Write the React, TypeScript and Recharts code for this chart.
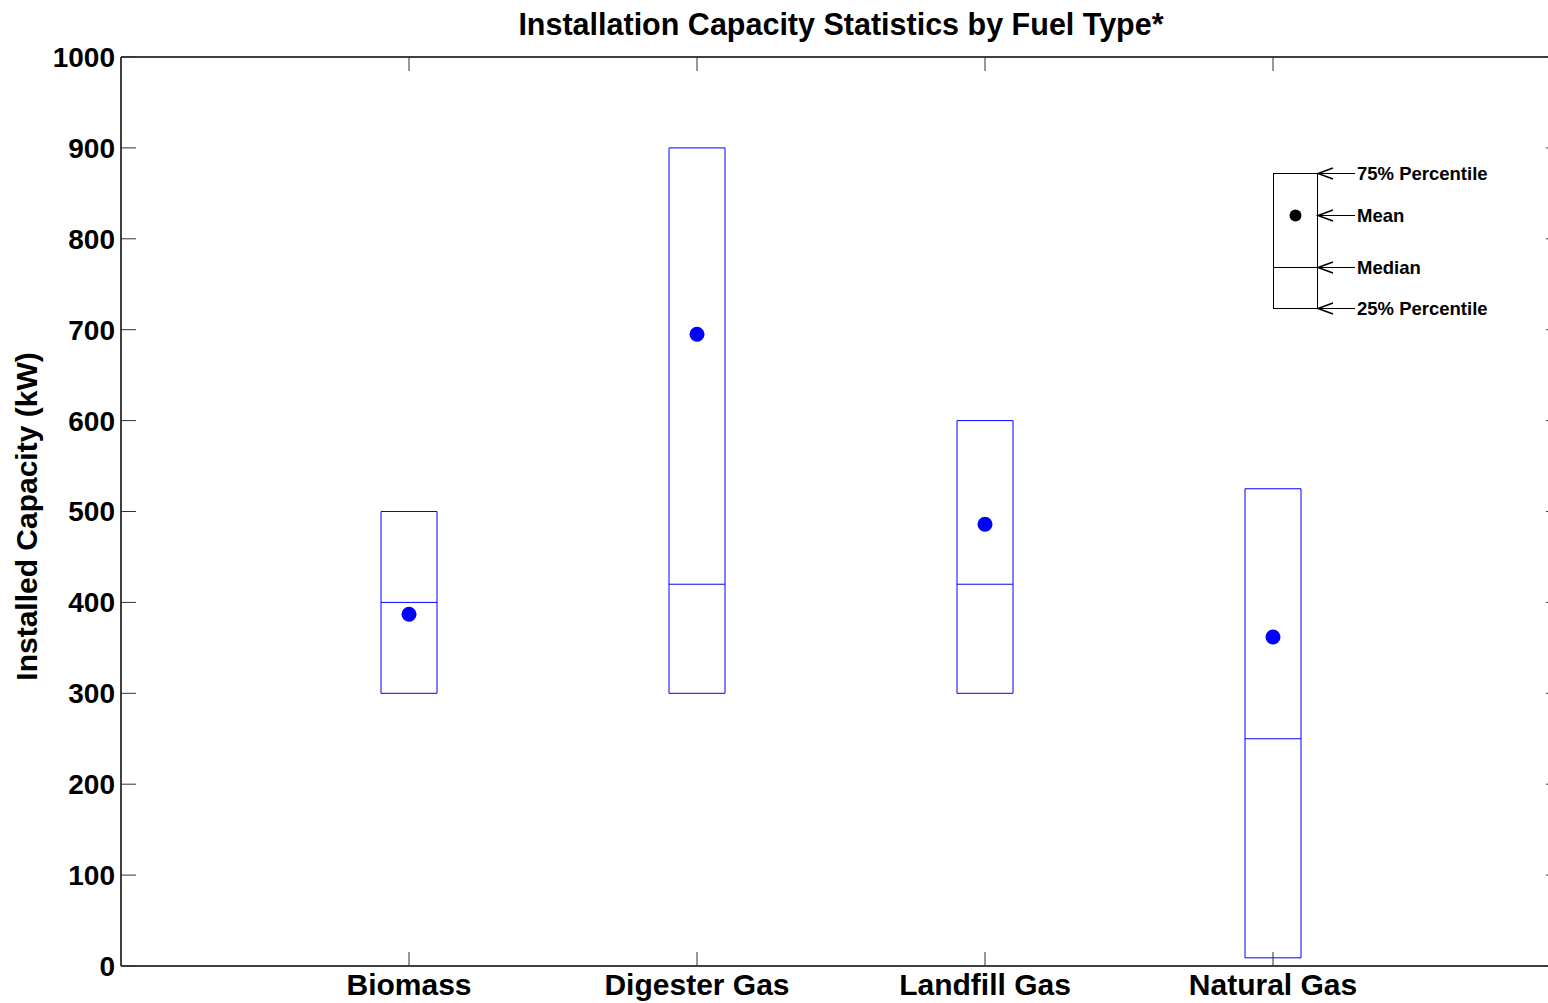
import React from 'react';
import { ComposedChart, Bar, Scatter, XAxis, YAxis } from 'recharts';

const categories = ['Biomass', 'Digester Gas', 'Landfill Gas', 'Natural Gas'];
const positions = [1, 2, 3, 4];
const q1Values = [300, 300, 300, 9];
const q3Values = [500, 900, 600, 525];
const medianValues = [400, 420, 420, 250];
const meanValues = [387, 695, 486, 362];
const yTicks = [0, 100, 200, 300, 400, 500, 600, 700, 800, 900, 1000];
const legendItems = [
  { label: '75% Percentile', y: 173 },
  { label: 'Mean', y: 215 },
  { label: 'Median', y: 267 },
  { label: '25% Percentile', y: 308 },
];

const data = categories.map((c, i) => ({
  name: c,
  x: positions[i],
  box: [q1Values[i], q3Values[i]],
  median: medianValues[i],
  mean: meanValues[i],
}));

const FONT = '"Liberation Sans", Arial, Helvetica, sans-serif';
const BLUE = '#0000ff';
const BOX_W = 56;

const MedianShape = (props: any) => {
  const { cx, cy } = props;
  if (cx == null || cy == null) return null;
  return <line x1={cx - BOX_W / 2} x2={cx + BOX_W / 2} y1={cy} y2={cy} stroke={BLUE} strokeWidth={1} />;
};

const MeanShape = (props: any) => {
  const { cx, cy } = props;
  if (cx == null || cy == null) return null;
  return <circle cx={cx} cy={cy} r={7.5} fill={BLUE} />;
};

const NoShape = () => <g />;

const YLabel = (props: any) => {
  const vb = props.viewBox || {};
  const x = (vb.x || 0) + 26;
  const y = (vb.y || 0) + (vb.height || 0) / 2 + 5;
  return (
    <text
      x={x}
      y={y}
      transform={`rotate(-90, ${x}, ${y})`}
      textAnchor="middle"
      dominantBaseline="central"
      fontFamily={FONT}
      fontWeight="bold"
      fontSize={30}
      fill="#000"
    >
      Installed Capacity (kW)
    </text>
  );
};

const xTickStyle = { fill: '#000', fontSize: 30, fontWeight: 'bold', fontFamily: FONT };
const yTickStyle = { fill: '#000', fontSize: 28, fontWeight: 'bold', fontFamily: FONT };
const axisLineStyle = { stroke: '#000', strokeWidth: 1.5 };
const tickLineStyle = { stroke: '#333', strokeWidth: 1 };
const blank = () => '';

export default function App() {
  return (
    <div style={{ position: 'absolute', left: 0, top: 0, width: 1548, height: 1003, overflow: 'hidden', background: '#fff' }}>
      <ComposedChart
        width={1580}
        height={1003}
        data={data}
        margin={{ top: 56, right: 18, bottom: 0, left: 0 }}
      >
        <XAxis
          xAxisId={0}
          type="number"
          dataKey="x"
          domain={[0, 5]}
          ticks={positions}
          tickFormatter={(v: number) => categories[positions.indexOf(v)] ?? ''}
          height={37}
          tickSize={-14}
          tickMargin={22}
          tick={xTickStyle}
          axisLine={axisLineStyle}
          tickLine={tickLineStyle}
          allowDataOverflow
        />
        <XAxis
          xAxisId="top"
          orientation="top"
          type="number"
          dataKey="x"
          domain={[0, 5]}
          ticks={positions}
          height={1}
          tickSize={-14}
          tickFormatter={blank}
          tick={{ fontSize: 1 }}
          axisLine={axisLineStyle}
          tickLine={tickLineStyle}
          allowDataOverflow
        />
        <YAxis
          yAxisId={0}
          type="number"
          domain={[0, 1000]}
          ticks={yTicks}
          width={121}
          tickSize={-15}
          tickMargin={21}
          tick={yTickStyle}
          axisLine={axisLineStyle}
          tickLine={tickLineStyle}
          label={<YLabel />}
          allowDataOverflow
        />
        <YAxis
          yAxisId="right"
          orientation="right"
          type="number"
          domain={[0, 1000]}
          ticks={yTicks}
          width={1}
          tickSize={-15}
          tickFormatter={blank}
          tick={{ fontSize: 1 }}
          axisLine={axisLineStyle}
          tickLine={tickLineStyle}
          allowDataOverflow
        />
        <Bar dataKey="box" barSize={BOX_W} fill="none" stroke={BLUE} strokeWidth={1} isAnimationActive={false} />
        <Scatter dataKey="median" shape={<MedianShape />} isAnimationActive={false} />
        <Scatter dataKey="mean" shape={<MeanShape />} isAnimationActive={false} />
        <Scatter
          dataKey="mean"
          xAxisId="top"
          yAxisId="right"
          shape={<NoShape />}
          legendType="none"
          isAnimationActive={false}
        />
      </ComposedChart>
      <div
        style={{
          position: 'absolute',
          left: 0,
          top: 9,
          width: 1682,
          textAlign: 'center',
          fontFamily: FONT,
          fontWeight: 'bold',
          fontSize: 30.5,
          lineHeight: '30px',
          color: '#000',
        }}
      >
        Installation Capacity Statistics by Fuel Type*
      </div>
      <svg
        width={1548}
        height={1003}
        style={{ position: 'absolute', left: 0, top: 0, pointerEvents: 'none' }}
      >
        <rect x={1273.5} y={173.5} width={44} height={135} fill="none" stroke="#000" strokeWidth={1} />
        <line x1={1273.5} x2={1317.5} y1={267.5} y2={267.5} stroke="#000" strokeWidth={1} />
        <circle cx={1295.5} cy={215.5} r={6} fill="#000" />
        {legendItems.map((it) => (
          <g key={it.label}>
            <line x1={1318} x2={1355} y1={it.y + 0.5} y2={it.y + 0.5} stroke="#000" strokeWidth={1} />
            <polyline
              points={`1333,${it.y - 5} 1318,${it.y + 0.5} 1333,${it.y + 6}`}
              fill="none"
              stroke="#000"
              strokeWidth={1.5}
            />
            <text
              x={1357}
              y={it.y + 0.5}
              dominantBaseline="central"
              fontFamily={FONT}
              fontWeight="bold"
              fontSize={18.5}
              fill="#000"
            >
              {it.label}
            </text>
          </g>
        ))}
      </svg>
    </div>
  );
}
